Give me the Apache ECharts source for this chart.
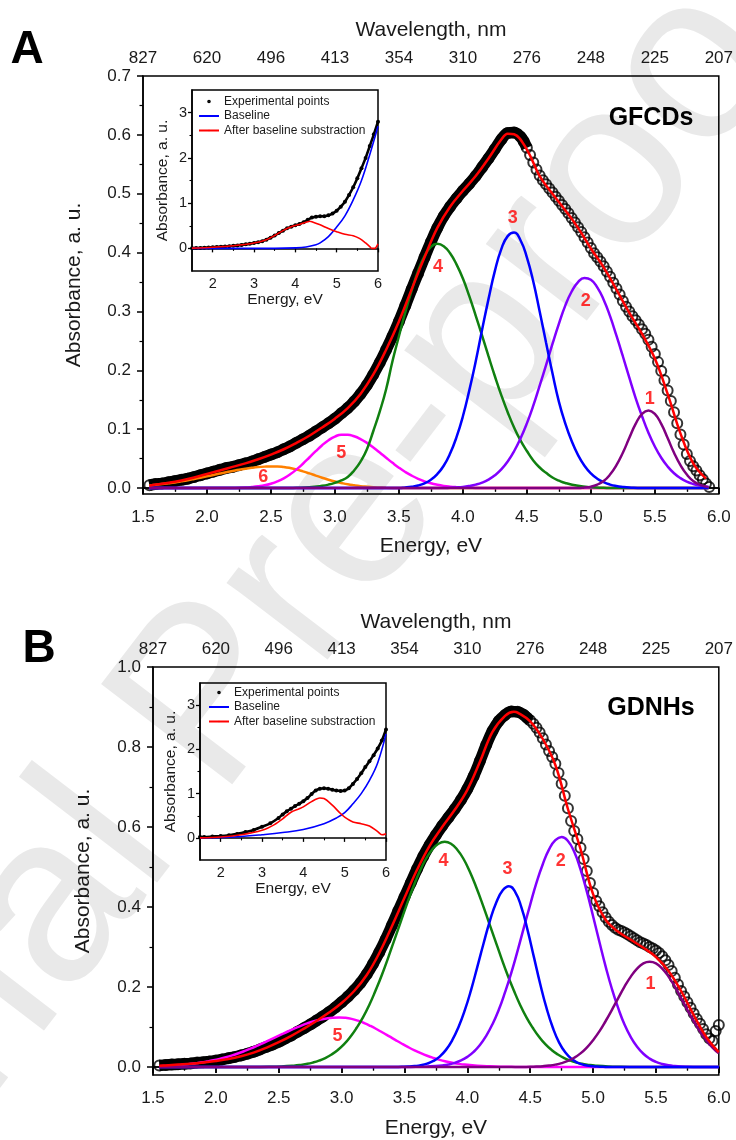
<!DOCTYPE html>
<html><head><meta charset="utf-8">
<script src="https://cdn.jsdelivr.net/npm/echarts@6/dist/echarts.min.js"></script>
<style>html,body{margin:0;padding:0;background:#fff}#c{width:736px;height:1140px}</style>
</head><body><div id="c"></div>
<script>
// ---------- tick labels ----------
const wavelengthLabels = ['827','620','496','413','354','310','276','248','225','207'];
const yTicksA = [0,0.1,0.2,0.3,0.4,0.5,0.6,0.7];
const yMinorA = [0.05,0.15,0.25,0.35,0.45,0.55,0.65];
const yTicksB = [0,0.2,0.4,0.6,0.8,1.0];
const yMinorB = [0.1,0.3,0.5,0.7,0.9];
const insetXTicks = [2,3,4,5,6];
const insetXMinor = [2.5,3.5,4.5,5.5];
const insetYTicks = [0,1,2,3];
const insetYMinor = [0.5,1.5,2.5];

// ---------- panel A (GFCDs) : [energy eV, absorbance] ----------
const expA = [[1.55,.005],[1.6,.007],[1.65,.008],[1.7,.010],[1.75,.012],[1.8,.014],[1.85,.016],[1.9,.019],[1.95,.022],[2.0,.025],
[2.05,.028],[2.1,.031],[2.15,.034],[2.2,.036],[2.25,.039],[2.3,.042],[2.35,.045],[2.4,.049],[2.45,.053],[2.5,.057],
[2.55,.061],[2.6,.066],[2.65,.071],[2.7,.077],[2.75,.083],[2.8,.089],[2.85,.096],[2.9,.103],[2.95,.110],[3.0,.118],
[3.05,.127],[3.1,.136],[3.15,.147],[3.2,.160],[3.25,.175],[3.3,.193],[3.35,.213],[3.4,.235],[3.45,.258],[3.5,.283],
[3.55,.310],[3.6,.338],[3.65,.365],[3.7,.392],[3.75,.418],[3.8,.442],[3.85,.462],[3.9,.478],[3.95,.492],[4.0,.505],
[4.05,.517],[4.1,.530],[4.15,.545],[4.2,.560],[4.25,.576],[4.3,.592],[4.35,.603],[4.4,.604],[4.45,.597],[4.475,.589],
[4.5,.578],[4.525,.566],[4.55,.553],[4.575,.541],[4.6,.531],[4.625,.523],[4.65,.516],[4.675,.509],[4.7,.502],[4.725,.495],
[4.75,.488],[4.775,.481],[4.8,.474],[4.825,.467],[4.85,.459],[4.875,.451],[4.9,.443],[4.925,.435],[4.95,.426],[4.975,.417],
[5.0,.408],[5.025,.399],[5.05,.392],[5.075,.385],[5.1,.377],[5.125,.368],[5.15,.359],[5.175,.349],[5.2,.339],[5.225,.329],
[5.25,.318],[5.275,.308],[5.3,.300],[5.325,.292],[5.35,.285],[5.375,.278],[5.4,.270],[5.425,.262],[5.45,.252],[5.475,.240],
[5.5,.228],[5.525,.214],[5.55,.199],[5.575,.183],[5.6,.166],[5.625,.148],[5.65,.129],[5.675,.110],[5.7,.091],[5.725,.074],
[5.75,.058],[5.775,.046],[5.8,.037],[5.825,.030],[5.85,.022],[5.875,.015],[5.9,.008],[5.925,.002]];
const fitA = [[1.55,.004],[1.6,.006],[1.7,.009],[1.8,.013],[1.9,.018],[2.0,.024],[2.1,.030],[2.2,.036],[2.3,.042],[2.4,.049],
[2.5,.057],[2.6,.066],[2.7,.077],[2.8,.089],[2.9,.103],[3.0,.118],[3.1,.136],[3.2,.160],[3.3,.193],[3.4,.235],[3.5,.283],
[3.6,.338],[3.7,.392],[3.8,.442],[3.9,.478],[4.0,.505],[4.1,.530],[4.2,.560],[4.3,.592],[4.35,.602],[4.4,.601],[4.5,.575],
[4.6,.530],[4.7,.500],[4.8,.472],[4.9,.442],[5.0,.407],[5.1,.375],[5.2,.337],[5.3,.298],[5.4,.262],[5.5,.220],[5.6,.160],
[5.7,.093],[5.8,.042],[5.9,.016]];
const peak1A = [[1.55,0],[4.9,0],[4.95,.001],[5.0,.0025],[5.05,.006],[5.1,.012],[5.15,.023],[5.2,.039],[5.25,.060],[5.3,.085],
[5.35,.109],[5.4,.126],[5.45,.132],[5.5,.126],[5.55,.109],[5.6,.085],[5.65,.060],[5.7,.039],[5.75,.023],[5.8,.012],[5.85,.006],[5.9,.0025],[5.92,.002]];
const peak2A = [[1.55,0],[3.85,0],[3.9,.0007],[3.95,.0012],[4.0,.002],[4.05,.0036],[4.1,.0059],[4.15,.0093],[4.2,.0144],[4.25,.0217],
[4.3,.0317],[4.35,.0452],[4.4,.0626],[4.45,.0842],[4.5,.110],[4.55,.140],[4.6,.174],[4.65,.209],[4.7,.245],[4.75,.279],
[4.8,.310],[4.85,.334],[4.9,.350],[4.95,.357],[5.0,.354],[5.05,.341],[5.1,.320],[5.15,.292],[5.2,.259],[5.25,.224],
[5.3,.188],[5.35,.153],[5.4,.122],[5.45,.094],[5.5,.0706],[5.55,.0516],[5.6,.0367],[5.65,.0253],[5.7,.017],[5.75,.0111],
[5.8,.0071],[5.85,.0044],[5.9,.0026],[5.92,.002]];
const peak3A = [[1.55,0],[3.5,0],[3.55,.001],[3.6,.0024],[3.65,.0045],[3.7,.0082],[3.75,.0143],[3.8,.0239],[3.85,.038],[3.9,.0587],
[3.95,.0865],[4.0,.122],[4.05,.166],[4.1,.215],[4.15,.269],[4.2,.321],[4.25,.369],[4.3,.406],[4.35,.428],[4.4,.434],
[4.45,.421],[4.5,.392],[4.55,.351],[4.6,.300],[4.65,.247],[4.7,.195],[4.75,.147],[4.8,.11],[4.85,.08],[4.9,.056],
[4.95,.038],[5.0,.025],[5.05,.016],[5.1,.01],[5.15,.006],[5.2,.0035],[5.25,.002],[5.3,.001],[5.4,0],[5.92,0]];
const peak4A = [[1.55,0],[2.6,0],[2.7,.0005],[2.8,.0015],[2.9,.004],[2.95,.006],[3.0,.009],[3.05,.013],[3.1,.019],[3.15,.030],
[3.2,.045],[3.25,.066],[3.3,.097],[3.35,.130],[3.4,.168],[3.45,.216],[3.5,.258],[3.55,.299],[3.6,.336],[3.65,.369],
[3.7,.394],[3.75,.410],[3.8,.415],[3.85,.411],[3.9,.399],[3.95,.380],[4.0,.356],[4.05,.326],[4.1,.293],[4.15,.259],
[4.2,.224],[4.25,.190],[4.3,.158],[4.35,.129],[4.4,.103],[4.45,.081],[4.5,.063],[4.55,.047],[4.6,.035],[4.65,.026],
[4.7,.018],[4.75,.0128],[4.8,.0088],[4.9,.004],[5.0,.0016],[5.1,.0005],[5.2,0],[5.92,0]];
const peak5A = [[1.55,0],[2.1,0],[2.2,.0003],[2.3,.001],[2.35,.0018],[2.4,.003],[2.45,.0047],[2.5,.0075],[2.55,.0114],[2.6,.0166],
[2.65,.0234],[2.7,.0318],[2.75,.0414],[2.8,.052],[2.85,.0627],[2.9,.0729],[2.95,.0814],[3.0,.0876],[3.05,.0907],[3.1,.0906],
[3.15,.088],[3.2,.0833],[3.25,.0769],[3.3,.069],[3.35,.0605],[3.4,.0516],[3.45,.0429],[3.5,.0347],[3.55,.0274],[3.6,.0211],
[3.65,.0158],[3.7,.0115],[3.75,.0082],[3.8,.0057],[3.85,.0038],[3.9,.0025],[3.95,.0016],[4.0,.001],[4.1,.0004],[4.2,0],[5.92,0]];
const peak6A = [[1.55,.0045],[1.6,.0056],[1.65,.0068],[1.7,.0082],[1.75,.0097],[1.8,.0115],[1.85,.0134],[1.9,.0155],[1.95,.0177],
[2.0,.020],[2.05,.0223],[2.1,.0247],[2.15,.027],[2.2,.0291],[2.25,.0312],[2.3,.033],[2.35,.0345],[2.4,.0357],[2.45,.0365],
[2.5,.0369],[2.55,.0369],[2.6,.036],[2.65,.0342],[2.7,.0317],[2.75,.0285],[2.8,.025],[2.85,.0213],[2.9,.0177],[2.95,.0143],
[3.0,.0113],[3.05,.0087],[3.1,.0064],[3.15,.0047],[3.2,.0033],[3.25,.0023],[3.3,.0015],[3.35,.001],[3.4,.0006],[3.5,.0002],[3.6,0],[5.92,0]];
const peakLabelsA = [['1',5.46,.152],['2',4.96,.317],['3',4.39,.458],['4',3.805,.375],['5',3.05,.059],['6',2.44,.019]];
// inset A
const insetExpA = [[1.5,.005],[1.6,.007],[1.7,.010],[1.8,.014],[1.9,.019],[2.0,.025],[2.1,.031],[2.2,.036],[2.3,.042],[2.4,.049],
[2.5,.057],[2.6,.066],[2.7,.077],[2.8,.089],[2.9,.103],[3.0,.118],[3.1,.136],[3.2,.160],[3.3,.193],[3.4,.235],[3.5,.283],
[3.6,.338],[3.7,.392],[3.8,.442],[3.9,.48],[4.0,.51],[4.1,.54],[4.2,.58],[4.3,.63],[4.4,.68],[4.5,.70],[4.6,.71],[4.7,.71],
[4.8,.73],[4.9,.77],[5.0,.83],[5.1,.92],[5.2,1.03],[5.3,1.18],[5.4,1.35],[5.5,1.55],[5.6,1.77],[5.7,2.0],[5.8,2.26],[5.9,2.52],[6.0,2.8]];
const insetBaseA = [[1.5,0],[3.5,0],[4.0,.01],[4.26,.03],[4.5,.08],[4.6,.12],[4.8,.26],[5.0,.47],[5.2,.72],[5.4,1.07],[5.6,1.5],[5.8,2.07],[6.0,2.7]];
const insetSubA = [[1.5,.005],[2.0,.025],[2.5,.057],[3.0,.118],[3.3,.193],[3.5,.283],[3.7,.392],[3.9,.478],[4.1,.53],[4.3,.59],[4.35,.60],
[4.4,.59],[4.6,.52],[4.8,.44],[5.0,.37],[5.2,.31],[5.4,.28],[5.55,.22],[5.7,.12],[5.8,.04],[5.85,0],[5.92,0],[6.0,.1]];

// ---------- panel B (GDNHs) ----------
const expB = [[1.55,.004],[1.6,.005],[1.65,.006],[1.7,.007],[1.75,.008],[1.8,.009],[1.85,.011],[1.9,.012],[1.95,.014],[2.0,.016],
[2.05,.019],[2.1,.022],[2.15,.025],[2.2,.029],[2.25,.033],[2.3,.038],[2.35,.044],[2.4,.050],[2.45,.056],[2.5,.063],
[2.55,.071],[2.6,.079],[2.65,.088],[2.7,.097],[2.75,.106],[2.8,.116],[2.85,.126],[2.9,.137],[2.95,.149],[3.0,.162],
[3.05,.176],[3.1,.192],[3.15,.210],[3.2,.232],[3.25,.258],[3.3,.287],[3.35,.319],[3.4,.354],[3.45,.390],[3.5,.425],
[3.55,.460],[3.6,.495],[3.65,.527],[3.7,.555],[3.75,.580],[3.8,.603],[3.85,.624],[3.9,.645],[3.95,.668],[4.0,.695],
[4.05,.727],[4.1,.765],[4.15,.805],[4.2,.840],[4.25,.865],[4.3,.880],[4.35,.889],[4.4,.888],[4.45,.880],[4.475,.873],
[4.5,.866],[4.525,.858],[4.55,.848],[4.575,.836],[4.6,.822],[4.625,.806],[4.65,.790],[4.675,.775],[4.7,.758],[4.725,.735],
[4.75,.708],[4.775,.678],[4.8,.647],[4.825,.615],[4.85,.590],[4.875,.570],[4.9,.548],[4.925,.520],[4.95,.490],[4.975,.460],
[5.0,.435],[5.025,.415],[5.05,.402],[5.075,.387],[5.1,.374],[5.125,.363],[5.15,.355],[5.175,.348],[5.2,.343],[5.225,.340],
[5.25,.336],[5.275,.332],[5.3,.327],[5.325,.322],[5.35,.317],[5.375,.312],[5.4,.309],[5.425,.305],[5.45,.300],[5.475,.296],
[5.5,.291],[5.525,.285],[5.55,.277],[5.575,.267],[5.6,.255],[5.625,.240],[5.65,.223],[5.675,.206],[5.7,.190],[5.725,.176],
[5.75,.162],[5.775,.148],[5.8,.134],[5.825,.120],[5.85,.108],[5.875,.095],[5.9,.082],[5.925,.071],[5.95,.065],[5.975,.090],[6.0,.105]];
const fitB = [[1.55,.003],[1.6,.004],[1.7,.006],[1.8,.008],[1.9,.011],[2.0,.015],[2.1,.020],[2.2,.027],[2.3,.036],[2.4,.048],
[2.5,.062],[2.6,.078],[2.7,.096],[2.8,.115],[2.9,.136],[3.0,.160],[3.1,.190],[3.2,.230],[3.3,.285],[3.4,.352],[3.5,.423],
[3.6,.493],[3.7,.553],[3.8,.600],[3.9,.643],[4.0,.693],[4.1,.763],[4.2,.838],[4.3,.878],[4.37,.888],[4.4,.886],[4.5,.864],
[4.6,.820],[4.7,.755],[4.8,.645],[4.9,.545],[5.0,.432],[5.1,.368],[5.2,.338],[5.3,.318],[5.4,.298],[5.5,.275],[5.6,.240],
[5.7,.190],[5.8,.130],[5.9,.075],[6.0,.037]];
const peak1B = [[1.55,0],[4.4,0],[4.45,.0002],[4.5,.0005],[4.55,.0011],[4.6,.002],[4.65,.0035],[4.7,.0059],[4.75,.0096],[4.8,.0151],
[4.85,.023],[4.9,.034],[4.95,.0486],[5.0,.067],[5.05,.089],[5.1,.115],[5.15,.143],[5.2,.172],[5.25,.201],[5.3,.226],
[5.35,.246],[5.4,.259],[5.45,.263],[5.5,.259],[5.55,.246],[5.6,.226],[5.65,.201],[5.7,.172],[5.75,.143],[5.8,.115],
[5.85,.089],[5.9,.067],[5.95,.0486],[6.0,.034]];
const peak2B = [[1.55,0],[3.5,0],[3.55,.0002],[3.65,.0007],[3.75,.0022],[3.8,.0038],[3.85,.0064],[3.9,.0104],[3.95,.0164],[4.0,.0253],
[4.05,.0378],[4.1,.055],[4.15,.078],[4.2,.107],[4.25,.143],[4.3,.187],[4.35,.236],[4.4,.291],[4.45,.349],[4.5,.406],
[4.55,.461],[4.6,.507],[4.65,.544],[4.7,.567],[4.75,.575],[4.8,.565],[4.85,.538],[4.9,.494],[4.95,.439],[5.0,.377],
[5.05,.313],[5.1,.251],[5.15,.195],[5.2,.147],[5.25,.106],[5.3,.0745],[5.35,.0506],[5.4,.0331],[5.45,.021],[5.5,.0129],
[5.55,.0077],[5.6,.0044],[5.65,.0024],[5.7,.0011],[5.75,.0005],[5.8,.0002],[5.9,0],[6.0,0]];
const peak3B = [[1.55,0],[3.4,0],[3.43,.0002],[3.48,.0005],[3.53,.0011],[3.58,.0023],[3.63,.0044],[3.68,.0084],[3.73,.0151],[3.78,.026],
[3.83,.0428],[3.88,.067],[3.93,.100],[3.98,.142],[4.03,.193],[4.08,.251],[4.13,.310],[4.18,.366],[4.23,.411],[4.28,.441],
[4.33,.452],[4.38,.438],[4.43,.399],[4.48,.341],[4.53,.274],[4.58,.207],[4.63,.147],[4.68,.098],[4.73,.061],[4.78,.036],
[4.83,.020],[4.88,.0103],[4.93,.005],[4.98,.0023],[5.03,.001],[5.08,.0004],[5.2,0],[6.0,0]];
const peak4B = [[1.55,0],[2.2,0],[2.32,.0002],[2.42,.0005],[2.52,.0013],[2.62,.0033],[2.67,.005],[2.72,.0075],[2.77,.011],[2.82,.0158],
[2.87,.0224],[2.92,.0312],[2.97,.0426],[3.02,.057],[3.07,.0755],[3.12,.098],[3.17,.124],[3.22,.155],[3.27,.191],[3.32,.230],
[3.37,.273],[3.42,.318],[3.47,.363],[3.52,.408],[3.57,.450],[3.62,.488],[3.67,.520],[3.72,.543],[3.77,.558],[3.82,.563],
[3.87,.558],[3.92,.543],[3.97,.520],[4.02,.488],[4.07,.450],[4.12,.408],[4.17,.363],[4.22,.318],[4.27,.273],[4.32,.230],
[4.37,.191],[4.42,.155],[4.47,.124],[4.52,.098],[4.57,.0755],[4.62,.057],[4.67,.0426],[4.72,.0312],[4.77,.0224],[4.82,.0158],
[4.87,.011],[4.92,.0075],[4.97,.005],[5.02,.0033],[5.12,.0013],[5.22,.0005],[5.32,.0002],[5.5,0],[6.0,0]];
const peak5B = [[1.55,.0021],[1.58,.0025],[1.63,.0032],[1.68,.0042],[1.73,.0055],[1.78,.007],[1.83,.0088],[1.88,.011],[1.93,.0137],
[1.98,.0168],[2.03,.0204],[2.08,.0245],[2.13,.0292],[2.18,.0345],[2.23,.0403],[2.28,.0465],[2.33,.0533],[2.38,.0603],[2.43,.0677],
[2.48,.0752],[2.53,.0827],[2.58,.090],[2.63,.097],[2.68,.1036],[2.73,.1094],[2.78,.1145],[2.83,.1185],[2.88,.1215],[2.93,.1234],
[2.98,.124],[3.03,.123],[3.08,.1203],[3.13,.1158],[3.18,.1099],[3.23,.1026],[3.28,.0944],[3.33,.0856],[3.38,.0764],[3.43,.0671],
[3.48,.0581],[3.53,.0496],[3.58,.0417],[3.63,.0345],[3.68,.0281],[3.73,.0226],[3.78,.0178],[3.83,.0139],[3.88,.0107],[3.93,.008],
[3.98,.006],[4.08,.0032],[4.18,.0016],[4.28,.0007],[4.38,.0003],[4.5,.0001],[4.7,0],[6.0,0]];
const peakLabelsB = [['1',5.456,.207],['2',4.743,.515],['3',4.319,.494],['4',3.811,.515],['5',2.968,.078]];
// inset B
const insetExpB = [[1.5,.02],[1.6,.02],[1.8,.03],[2.0,.04],[2.2,.06],[2.4,.09],[2.6,.13],[2.8,.18],[3.0,.25],[3.2,.33],[3.4,.45],
[3.5,.53],[3.6,.60],[3.7,.66],[3.8,.72],[3.9,.77],[4.0,.83],[4.1,.90],[4.2,.99],[4.3,1.07],[4.4,1.11],[4.5,1.12],[4.6,1.11],
[4.7,1.09],[4.8,1.07],[4.9,1.06],[5.0,1.07],[5.1,1.12],[5.2,1.22],[5.3,1.33],[5.4,1.46],[5.5,1.60],[5.6,1.73],[5.7,1.87],
[5.8,2.02],[5.9,2.20],[6.0,2.45]];
const insetBaseB = [[1.5,0],[2.0,.01],[2.5,.03],[3.0,.07],[3.5,.12],[4.0,.19],[4.5,.32],[4.8,.45],[5.0,.57],[5.2,.77],[5.4,1.0],[5.6,1.3],[5.8,1.7],[6.0,2.35]];
const insetSubB = [[1.5,0],[2.0,.02],[2.5,.07],[3.0,.17],[3.3,.30],[3.5,.43],[3.7,.58],[3.9,.66],[4.0,.70],[4.2,.82],[4.4,.90],[4.5,.89],
[4.7,.74],[4.9,.55],[5.0,.47],[5.2,.36],[5.4,.32],[5.6,.27],[5.8,.14],[5.9,.07],[6.0,.09]];

// ---------- styling ----------
const FONT = 'Liberation Sans, Arial, sans-serif';
const TXT = '#1a1a1a';
const C = {p1:'#800080', p2:'#8000ff', p3:'#0000ff', p4:'#108010', p5:'#ff00ff', p6:'#ff8000', fit:'#ff0000', lab:'#ff0000'};

function mainX(grid, nameGap, topGap){
  return [{
    gridIndex:grid, type:'value', min:1.5, max:6, interval:0.5, position:'bottom',
    axisLine:{lineStyle:{color:'#000', width:1.5}},
    axisTick:{length:6, lineStyle:{color:'#000', width:1.5}},
    minorTick:{show:true, splitNumber:2, length:3.5, lineStyle:{color:'#000', width:1.2}},
    splitLine:{show:false}, minorSplitLine:{show:false},
    axisLabel:{fontSize:17, color:TXT, fontFamily:FONT, margin:15, formatter:v=>v.toFixed(1)},
    name:'Energy, eV', nameLocation:'middle', nameGap:nameGap,
    nameTextStyle:{fontSize:21, color:TXT, fontFamily:FONT}
  },{
    gridIndex:grid, type:'value', min:1.5, max:6, interval:0.5, position:'top',
    axisLine:{lineStyle:{color:'#000', width:1.5}},
    axisTick:{inside:true, length:6, lineStyle:{color:'#000', width:1.5}},
    minorTick:{show:true, splitNumber:2, length:3.5, lineStyle:{color:'#000', width:1.2}},
    splitLine:{show:false},
    axisLabel:{fontSize:17, color:TXT, fontFamily:FONT, margin:9,
      formatter:v=>wavelengthLabels[Math.round((v-1.5)/0.5)]},
    name:'Wavelength, nm', nameLocation:'middle', nameGap:topGap,
    nameTextStyle:{fontSize:21, color:TXT, fontFamily:FONT}
  }];
}
function mainY(grid, min, max, ticks, minor, nameGap){
  return [{
    gridIndex:grid, type:'value', min:min, max:max, position:'left',
    axisLine:{show:true, lineStyle:{color:'#000', width:1.5}},
    axisTick:{show:true, length:6, customValues:ticks, lineStyle:{color:'#000', width:1.5}},
    axisLabel:{fontSize:17, color:TXT, fontFamily:FONT, margin:12, customValues:ticks, formatter:v=>v.toFixed(1)},
    splitLine:{show:false},
    name:'Absorbance, a. u.', nameLocation:'middle', nameGap:nameGap,
    nameTextStyle:{fontSize:21, color:TXT, fontFamily:FONT}
  },{
    gridIndex:grid, type:'value', min:min, max:max, position:'left',
    axisLine:{show:false}, axisLabel:{show:false}, splitLine:{show:false},
    axisTick:{show:true, length:3.5, customValues:minor, lineStyle:{color:'#000', width:1.2}}
  }];
}
function insetX(grid){
  return [{
    gridIndex:grid, type:'value', min:1.5, max:6, position:'bottom',
    axisLine:{lineStyle:{color:'#000', width:1.5}},
    axisTick:{length:4, customValues:insetXTicks, lineStyle:{color:'#000', width:1.3}},
    axisLabel:{fontSize:14.5, color:TXT, fontFamily:FONT, margin:5, customValues:insetXTicks},
    splitLine:{show:false},
    name:'Energy, eV', nameLocation:'middle', nameGap:19,
    nameTextStyle:{fontSize:15.5, color:TXT, fontFamily:FONT}
  },{
    gridIndex:grid, type:'value', min:1.5, max:6, position:'bottom',
    axisLine:{show:false}, axisLabel:{show:false}, splitLine:{show:false},
    axisTick:{length:2.5, customValues:insetXMinor, lineStyle:{color:'#000', width:1.1}}
  }];
}
function insetY(grid){
  return [{
    gridIndex:grid, type:'value', min:-0.5, max:3.5, position:'left',
    axisLine:{show:true, lineStyle:{color:'#000', width:1.5}},
    axisTick:{show:true, length:4, customValues:insetYTicks, lineStyle:{color:'#000', width:1.3}},
    axisLabel:{fontSize:14.5, color:TXT, fontFamily:FONT, margin:5, customValues:insetYTicks},
    splitLine:{show:false},
    name:'Absorbance, a. u.', nameLocation:'middle', nameGap:21,
    nameTextStyle:{fontSize:15.5, color:TXT, fontFamily:FONT}
  },{
    gridIndex:grid, type:'value', min:-0.5, max:3.5, position:'left',
    axisLine:{show:false}, axisLabel:{show:false}, splitLine:{show:false},
    axisTick:{show:true, length:2.5, customValues:insetYMinor, lineStyle:{color:'#000', width:1.1}}
  }];
}
function curve(name, data, color, width, xi, yi, z, smooth){
  return {type:'line', name, data, xAxisIndex:xi, yAxisIndex:yi, symbol:'none', smooth:smooth==null?0.5:smooth,
    lineStyle:{color, width}, itemStyle:{color}, z, silent:true, animation:false};
}
function mainSeries(tag, xi, yi, exp, fit, peaks, labels){
  const s = [];
  s.push(curve(tag+' band', exp.filter(p=>p[0]<=4.5), '#000', 11.5, xi, yi, 2, 0.4));
  s.push({type:'scatter', name:tag+' exp', data:exp, xAxisIndex:xi, yAxisIndex:yi, symbol:'circle', symbolSize:10,
    itemStyle:{color:'rgba(0,0,0,0)', borderColor:'#000', borderWidth:2}, z:3, silent:true, animation:false});
  const order = peaks.length===6 ? [5,4,3,1,2,0] : [4,3,1,2,0];
  const cols = [C.p1,C.p2,C.p3,C.p4,C.p5,C.p6];
  order.forEach((i,k)=>s.push(curve(tag+' peak'+(i+1), peaks[i], cols[i], 2.5, xi, yi, 4+k*0.1)));
  s.push(curve(tag+' fit', fit, C.fit, 2.5, xi, yi, 5, 0.4));
  s.push({type:'scatter', name:tag+' labels', xAxisIndex:xi, yAxisIndex:yi, symbolSize:1, silent:true, animation:false,
    itemStyle:{color:'rgba(0,0,0,0)'}, z:6,
    data:labels.map(l=>({name:l[0], value:[l[1], l[2]]})),
    label:{show:true, position:'inside', formatter:'{b}', fontSize:18, fontWeight:'bold', color:C.lab, fontFamily:FONT}});
  return s;
}
function insetSeries(xi, yi, exp, base, sub){
  return [
    {type:'line', name:'Experimental points', data:exp, xAxisIndex:xi, yAxisIndex:yi, symbol:'circle', symbolSize:4,
      showAllSymbol:true, smooth:0.3, lineStyle:{color:'#000', width:2.6}, itemStyle:{color:'#000'}, z:3, silent:true, animation:false},
    curve('Baseline', base, '#0000ff', 1.6, xi, yi, 4, 0.4),
    curve('After baseline substraction', sub, '#ff0000', 1.6, xi, yi, 5, 0.3)
  ];
}
function insetLegend(left, top){
  return {left, top, orient:'vertical', padding:0, itemGap:1.5, itemWidth:20, itemHeight:2, selectedMode:false,
    textStyle:{fontSize:12, color:TXT, fontFamily:FONT, lineHeight:13},
    data:[{name:'Experimental points', icon:'circle', itemStyle:{color:'#fff', borderColor:'#000', borderWidth:1.6}},
          {name:'Baseline'}, {name:'After baseline substraction'}]};
}

const option = {
  backgroundColor:'#fff',
  animation:false,
  textStyle:{fontFamily:FONT},
  grid:[
    {left:143, top:76, width:578, height:418, show:true, borderColor:'#000', borderWidth:1.5, backgroundColor:'transparent'},
    {left:192, top:90, width:186, height:181, show:true, borderColor:'#000', borderWidth:1.5, backgroundColor:'transparent'},
    {left:153, top:667, width:568, height:409, show:true, borderColor:'#000', borderWidth:1.5, backgroundColor:'transparent'},
    {left:200, top:683, width:186, height:177, show:true, borderColor:'#000', borderWidth:1.5, backgroundColor:'transparent'}
  ],
  xAxis:[...mainX(0,42,35.5), ...insetX(1), ...mainX(2,43,34.5), ...insetX(3)],
  yAxis:[...mainY(0,-0.01,0.7,yTicksA,yMinorA,58), ...insetY(1), ...mainY(2,-0.02,1.0,yTicksB,yMinorB,59), ...insetY(3)],
  legend:[insetLegend(198,95), insetLegend(208,686)],
  graphic:[
    {type:'text', z:-100, x:-351, y:1438, rotation:0.918,
      style:{text:'Journal Pre-proof', font:'240px "Liberation Sans", Arial, sans-serif', fill:'#e9e9e9', textAlign:'left', textVerticalAlign:'middle'}},
    {type:'text', x:27, y:50, style:{text:'A', font:'bold 46px "Liberation Sans", Arial, sans-serif', fill:'#000', textAlign:'center', textVerticalAlign:'middle'}},
    {type:'text', x:39, y:649, style:{text:'B', font:'bold 46px "Liberation Sans", Arial, sans-serif', fill:'#000', textAlign:'center', textVerticalAlign:'middle'}},
    {type:'text', x:651, y:118, style:{text:'GFCDs', font:'bold 25px "Liberation Sans", Arial, sans-serif', fill:'#000', textAlign:'center', textVerticalAlign:'middle'}},
    {type:'text', x:651, y:708, style:{text:'GDNHs', font:'bold 25px "Liberation Sans", Arial, sans-serif', fill:'#000', textAlign:'center', textVerticalAlign:'middle'}}
  ],
  series:[
    ...mainSeries('A', 0, 0, expA, fitA, [peak1A,peak2A,peak3A,peak4A,peak5A,peak6A], peakLabelsA),
    ...insetSeries(2, 2, insetExpA, insetBaseA, insetSubA),
    ...mainSeries('B', 4, 4, expB, fitB, [peak1B,peak2B,peak3B,peak4B,peak5B], peakLabelsB),
    ...insetSeries(6, 6, insetExpB, insetBaseB, insetSubB)
  ]
};
const chart = echarts.init(document.getElementById('c'), null, {renderer:'canvas', width:736, height:1140});
chart.setOption(option);
</script></body></html>
